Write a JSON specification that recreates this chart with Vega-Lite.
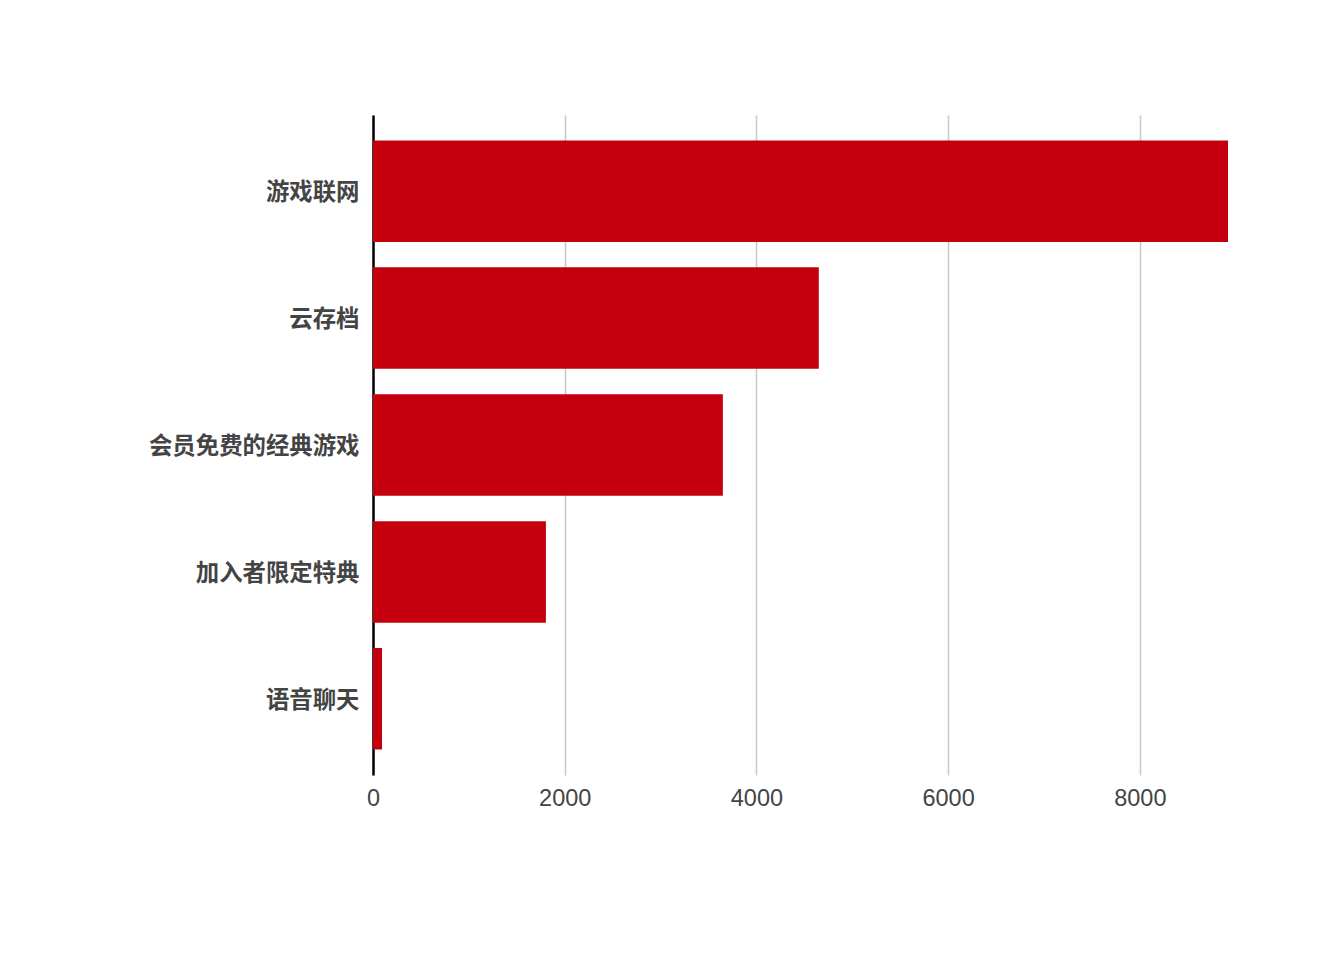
{
  "$schema": "https://vega.github.io/schema/vega-lite/v6.json",
  "autosize": "none",
  "padding": {"left": 373, "top": 115, "right": 116, "bottom": 185},
  "width": 855,
  "height": 660,
  "background": "#ffffff",
  "data": {
    "values": [
      {"feature": "游戏联网", "count": 8920},
      {"feature": "云存档", "count": 4651},
      {"feature": "会员免费的经典游戏", "count": 3650},
      {"feature": "加入者限定特典", "count": 1804},
      {"feature": "语音聊天", "count": 94}
    ]
  },
  "mark": {"type": "bar", "color": "#c4000f"},
  "encoding": {
    "y": {
      "field": "feature",
      "type": "nominal",
      "sort": null,
      "title": null,
      "scale": {"paddingInner": 0.2, "paddingOuter": 0.2},
      "axis": {
        "domain": true,
        "domainColor": "#000000",
        "domainWidth": 2.5,
        "ticks": false,
        "labelPadding": 14,
        "labelLimit": 400,
        "labelFont": "Noto Sans CJK SC",
        "labelFontWeight": "bold",
        "labelFontSize": 23.4,
        "labelColor": "#444444",
        "labelOffset": 2
      }
    },
    "x": {
      "field": "count",
      "type": "quantitative",
      "title": null,
      "scale": {"domain": [0, 8920], "nice": false},
      "axis": {
        "values": [0, 2000, 4000, 6000, 8000],
        "format": "d",
        "domain": false,
        "ticks": false,
        "grid": true,
        "gridColor": "#c8c8c8",
        "gridWidth": 1.5,
        "labelPadding": 11,
        "labelFont": "Liberation Sans",
        "labelFontSize": 23.5,
        "labelColor": "#444444",
        "labelFlush": false
      }
    }
  },
  "config": {"view": {"stroke": null}}
}
